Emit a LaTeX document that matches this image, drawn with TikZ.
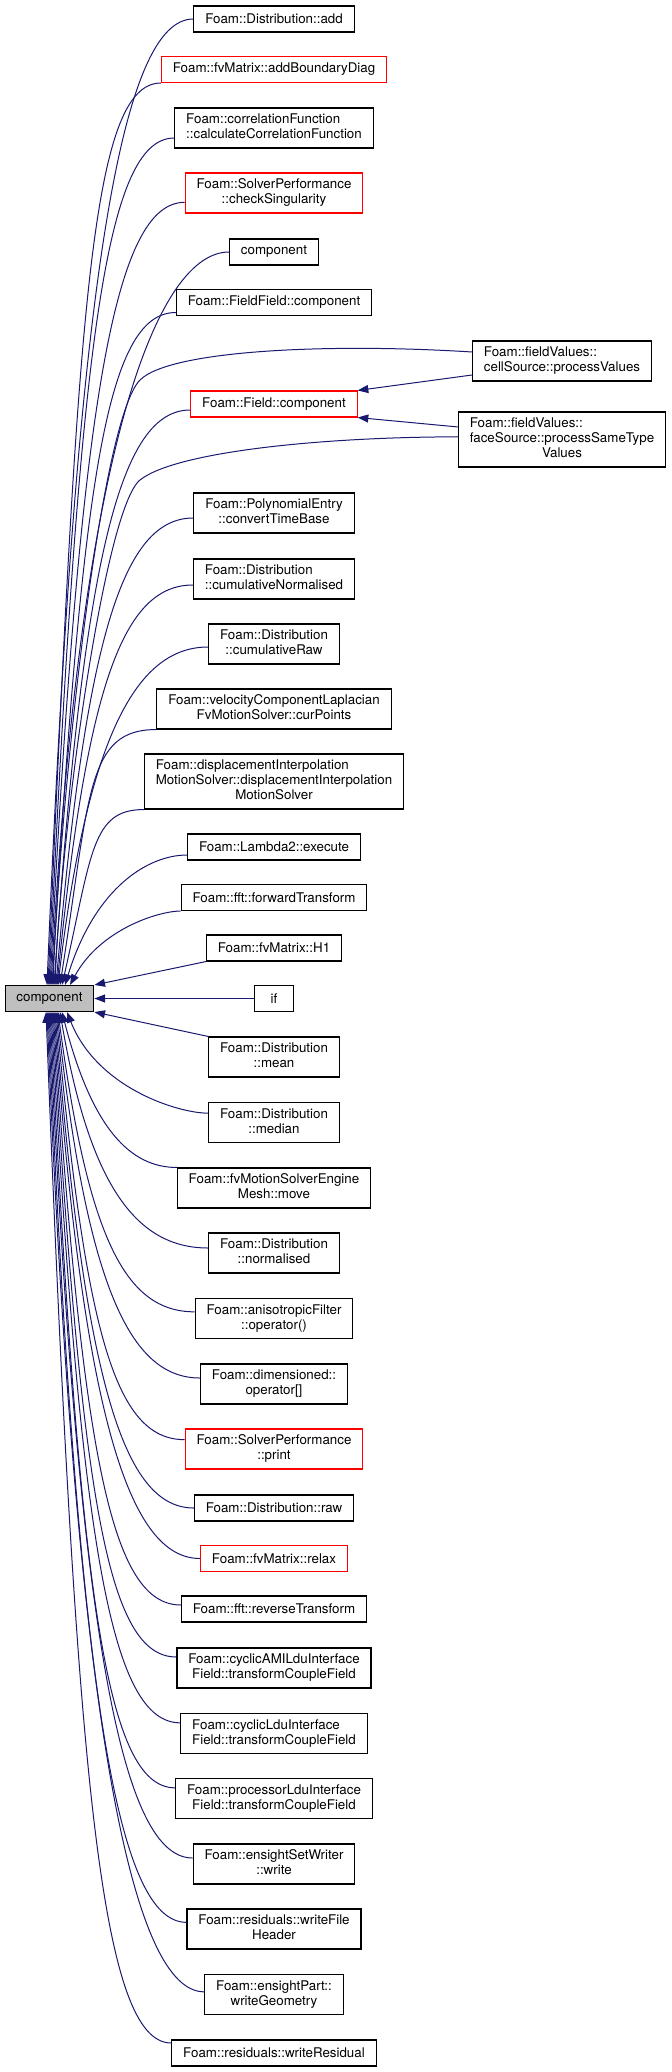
\documentclass[tikz,border=0pt]{standalone}
\usepackage{fontspec}
\setmainfont{TeX Gyre Heros}
\usepackage{tikz}
\usetikzlibrary{positioning, calc, arrows.meta}

\definecolor{edgeblue}{HTML}{191970}
\definecolor{gray75}{HTML}{BFBFBF}

% multi-line labels: upper lines left, last line centred
\newcommand{\twolines}[2]{\begin{tabular}{@{}l@{}}#1\\\multicolumn{1}{@{}c@{}}{#2}\end{tabular}}
\newcommand{\threelines}[3]{\begin{tabular}{@{}l@{}}#1\\#2\\\multicolumn{1}{@{}c@{}}{#3}\end{tabular}}

\tikzset{
  fn/.style={draw=black, fill=white, line width=0.8pt, font=\fontsize{10}{11.25}\selectfont,
    inner xsep=8.5pt, inner ysep=3.75pt, minimum height=19.5pt, minimum width=29pt},
  fnred/.style={fn, draw=red},
  fnmain/.style={fn, fill=gray75},
  call/.style={draw=edgeblue, line width=0.75pt, -{Triangle[length=8pt,width=6pt]}},
  callfan/.style={to path={let \p1=(\tikztostart), \p2=(\tikztotarget),
    \n1={min(52.5pt,0.3*abs((\y1)-(\y2)))} in
    .. controls ({\x1-\n1},{\y1}) and ({\x2+22.5pt},{0.25*\y2+0.75*\y1}) .. (\tikztotarget) \tikztonodes}}
}

\begin{document}
\begin{tikzpicture}[x=0.75pt, y=-0.75pt]
        \useasboundingbox (0,0) rectangle (671,2072);

        % ===================================================
        % 1. CALLED FUNCTION
        % ===================================================
        \node[fnmain] (main) at (49.5, 998.5) {component};

        % ===================================================
        % 2. CALLERS ABOVE
        % ===================================================
        \node[fn]    (add)     at (274, 19)    {Foam::Distribution::add};
        \node[fnred] (addBD)   at (274, 69.5)  {Foam::fvMatrix::addBoundaryDiag};
        \node[fn]    (corrFn)  at (274, 128)   {\twolines{Foam::correlationFunction}{::calculateCorrelationFunction}};
        \node[fnred] (chkSing) at (274, 193)   {\twolines{Foam::SolverPerformance}{::checkSingularity}};
        \node[fn]    (comp)    at (274, 252)   {component};
        \node[fn]    (ffComp)  at (274, 302.5) {Foam::FieldField::component};
        \node[fn]    (cellPV)  at (562, 361)   {\twolines{Foam::fieldValues::}{cellSource::processValues}};
        \node[fnred] (fldComp) at (274, 404)   {Foam::Field::component};
        \node[fn]    (facePV)  at (562, 439.5) {\threelines{Foam::fieldValues::}{faceSource::processSameType}{Values}};
        \node[fn]    (polyTB)  at (274, 513)   {\twolines{Foam::PolynomialEntry}{::convertTimeBase}};
        \node[fn]    (cumNorm) at (274, 579)   {\twolines{Foam::Distribution}{::cumulativeNormalised}};
        \node[fn]    (cumRaw)  at (274, 644)   {\twolines{Foam::Distribution}{::cumulativeRaw}};
        \node[fn]    (velCP)   at (274, 709)   {\twolines{Foam::velocityComponentLaplacian}{FvMotionSolver::curPoints}};
        \node[fn]    (dispMS)  at (274, 781.5) {\threelines{Foam::displacementInterpolation}{MotionSolver::displacementInterpolation}{MotionSolver}};
        \node[fn]    (lambda)  at (274, 847)   {Foam::Lambda2::execute};
        \node[fn]    (fwdT)    at (274, 897.5) {Foam::fft::forwardTransform};
        \node[fn]    (hOne)    at (274, 948)   {Foam::fvMatrix::H1};
        \node[fn]    (ifN)     at (274, 998.5) {if};

        % ===================================================
        % 3. CALLERS BELOW
        % ===================================================
        \node[fn]    (mean)    at (274, 1057)   {\twolines{Foam::Distribution}{::mean}};
        \node[fn]    (median)  at (274, 1122.5) {\twolines{Foam::Distribution}{::median}};
        \node[fn]    (engMove) at (274, 1188)   {\twolines{Foam::fvMotionSolverEngine}{Mesh::move}};
        \node[fn]    (norm)    at (274, 1253)   {\twolines{Foam::Distribution}{::normalised}};
        \node[fn]    (aniso)   at (274, 1318.5) {\twolines{Foam::anisotropicFilter}{::operator()}};
        \node[fn]    (dimOp)   at (274, 1384)   {\twolines{Foam::dimensioned::}{operator[]}};
        \node[fnred] (print)   at (274, 1449)   {\twolines{Foam::SolverPerformance}{::print}};
        \node[fn]    (raw)     at (274, 1508)   {Foam::Distribution::raw};
        \node[fnred] (relax)   at (274, 1558.5) {Foam::fvMatrix::relax};
        \node[fn]    (revT)    at (274, 1609)   {Foam::fft::reverseTransform};
        \node[fn]    (amiTCF)  at (274, 1668)   {\twolines{Foam::cyclicAMILduInterface}{Field::transformCoupleField}};
        \node[fn]    (lduTCF)  at (274, 1733.5) {\twolines{Foam::cyclicLduInterface}{Field::transformCoupleField}};
        \node[fn]    (procTCF) at (274, 1798.5) {\twolines{Foam::processorLduInterface}{Field::transformCoupleField}};
        \node[fn]    (ensW)    at (274, 1864)   {\twolines{Foam::ensightSetWriter}{::write}};
        \node[fn]    (resHdr)  at (274, 1929)   {\twolines{Foam::residuals::writeFile}{Header}};
        \node[fn]    (ensGeo)  at (274, 1994.5) {\twolines{Foam::ensightPart::}{writeGeometry}};
        \node[fn]    (resW)    at (274, 2053)   {Foam::residuals::writeResidual};

        % ===================================================
        % 4. CALLS FROM ABOVE
        % ===================================================
        \draw[call] (add.west) to[callfan] ($(main.north)+(-2.5,0)$);
        \draw[call] (addBD.south west) to[callfan] ($(main.north)+(-1.5,0)$);
        \draw[call] ([yshift=-7.5pt]corrFn.west) to[callfan] ($(main.north)+(-0.5,0)$);
        \draw[call] ([yshift=-7pt]chkSing.west) to[callfan] ($(main.north)+(0.5,0)$);
        \draw[call] (comp.west) to[callfan] ($(main.north)+(1.5,0)$);
        \draw[call] ([yshift=-7.5pt]ffComp.west) to[callfan] ($(main.north)+(2.5,0)$);
        \draw[call] ([yshift=6.75pt]cellPV.west) .. controls (330,343) and (170,350) .. (140,380)
            .. controls (100,420) and (60,800) .. ($(main.north)+(3.5,0)$);
        \draw[call] ([yshift=-4.5pt]fldComp.west) to[callfan] ($(main.north)+(4.5,0)$);
        \draw[call] ([yshift=2pt]facePV.west) .. controls (320,437) and (175,452) .. (140,480)
            .. controls (105,508) and (62,820) .. ($(main.north)+(5.5,0)$);
        \draw[call] ([yshift=-3.75pt]polyTB.west) to[callfan] ($(main.north)+(6.5,0)$);
        \draw[call] ([yshift=-4.5pt]cumNorm.west) to[callfan] ($(main.north)+(7.5,0)$);
        \draw[call] ([yshift=-2.25pt]cumRaw.west) to[callfan] ($(main.north)+(8.5,0)$);
        \draw[call] (velCP.south west) to[callfan] ($(main.north)+(10.5,0)$);
        \draw[call] (dispMS.south west) to[callfan] ($(main.north)+(12.5,0)$);
        \draw[call] ([yshift=-6pt]lambda.west) to[callfan] ($(main.north)+(15.5,0)$);
        \draw[call] (fwdT.south west) to[callfan] ($(main.north)+(20.5,0)$);
        \draw[call] (hOne.south west) -- (main.north east);
        \draw[call] (ifN.west) -- (main.east);

        % Field::component is called by both fieldValues sources
        \draw[call] ([yshift=-10.5pt]cellPV.west) -- (fldComp.north east);
        \draw[call] ([yshift=9.4pt]facePV.west) -- (fldComp.south east);

        % ===================================================
        % 5. CALLS FROM BELOW
        % ===================================================
        \draw[call] (mean.north west) -- (main.south east);
        \draw[call] ([yshift=7pt]median.west) to[callfan] ($(main.south)+(17.5,0)$);
        \draw[call] (engMove.north west) to[callfan] ($(main.south)+(12.5,0)$);
        \draw[call] ([yshift=3.75pt]norm.west) to[callfan] ($(main.south)+(10.5,0)$);
        \draw[call] ([yshift=5pt]aniso.west) to[callfan] ($(main.south)+(8.5,0)$);
        \draw[call] ([yshift=4.5pt]dimOp.west) to[callfan] ($(main.south)+(7.5,0)$);
        \draw[call] ([yshift=7pt]print.west) to[callfan] ($(main.south)+(6.5,0)$);
        \draw[call] (raw.west) to[callfan] ($(main.south)+(5.5,0)$);
        \draw[call] (relax.west) to[callfan] ($(main.south)+(4.5,0)$);
        \draw[call] ([yshift=3pt]revT.west) to[callfan] ($(main.south)+(3.5,0)$);
        \draw[call] ([yshift=8.25pt]amiTCF.west) to[callfan] ($(main.south)+(2.5,0)$);
        \draw[call] ([yshift=8pt]lduTCF.west) to[callfan] ($(main.south)+(1.5,0)$);
        \draw[call] ([yshift=8pt]procTCF.west) to[callfan] ($(main.south)+(0.5,0)$);
        \draw[call] ([yshift=4.5pt]ensW.west) to[callfan] ($(main.south)+(-0.5,0)$);
        \draw[call] ([yshift=5pt]resHdr.west) to[callfan] ($(main.south)+(-1.5,0)$);
        \draw[call] ([yshift=2pt]ensGeo.west) to[callfan] ($(main.south)+(-2.5,0)$);
        \draw[call] ([yshift=7.5pt]resW.west) to[callfan] ($(main.south)+(-3.5,0)$);

    \end{tikzpicture}
\end{document}
